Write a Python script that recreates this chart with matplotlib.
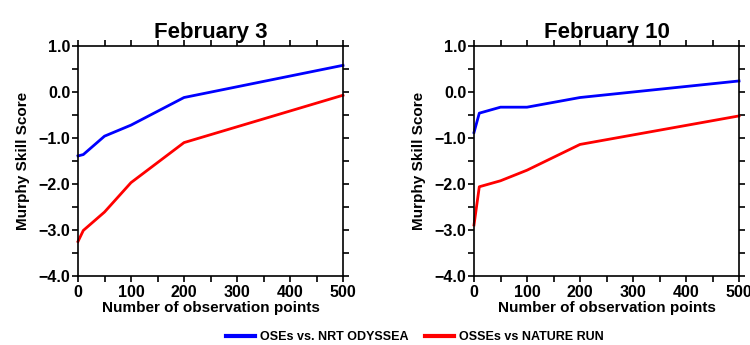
import matplotlib
matplotlib.use("Agg")
import matplotlib.pyplot as plt
from matplotlib.ticker import MultipleLocator, FuncFormatter
from matplotlib.lines import Line2D

plt.rcParams["font.family"] = ["Liberation Sans", "DejaVu Sans"]
plt.rcParams["font.weight"] = "bold"

obs_points = [0, 10, 50, 100, 200, 500]

feb3_ose = [-1.39, -1.36, -0.96, -0.72, -0.12, 0.58]
feb3_osse = [-3.25, -3.01, -2.61, -1.97, -1.10, -0.07]

feb10_ose = [-0.88, -0.46, -0.33, -0.33, -0.12, 0.24]
feb10_osse = [-2.89, -2.06, -1.93, -1.70, -1.14, -0.52]

panels = [
    ("February 3", feb3_ose, feb3_osse),
    ("February 10", feb10_ose, feb10_osse),
]
legend_labels = ["OSEs vs. NRT ODYSSEA", "OSSEs vs NATURE RUN"]
colors = ["#0000ff", "#ff0000"]

W, H = 750, 345
fig = plt.figure(figsize=(7.5, 3.45), dpi=100)

# axes boxes in pixels: left, right, top, bottom
boxes = [(78, 343, 46, 276), (474, 739, 46, 276)]

yfmt = FuncFormatter(lambda v, p: f"{v:.1f}".replace("-", "\u2212"))

for (title, ose, osse), (l, r, t, b) in zip(panels, boxes):
    ax = fig.add_axes([l / W, 1 - b / H, (r - l) / W, (b - t) / H])
    ax.plot(obs_points, ose, color=colors[0], lw=2, clip_on=False)
    ax.plot(obs_points, osse, color=colors[1], lw=2, clip_on=False)
    ax.set_xlim(0, 500)
    ax.set_ylim(-4.0, 1.0)
    ax.xaxis.set_major_locator(MultipleLocator(100))
    ax.xaxis.set_minor_locator(MultipleLocator(50))
    ax.yaxis.set_major_locator(MultipleLocator(1.0))
    ax.yaxis.set_minor_locator(MultipleLocator(0.5))
    ax.yaxis.set_major_formatter(yfmt)
    ax.tick_params(which="both", direction="out", top=True, right=True,
                   length=4.5, width=1.2, labelsize=11.5)
    ax.tick_params(axis="x", pad=2)
    ax.tick_params(axis="y", pad=1)
    for lab in ax.get_xticklabels() + ax.get_yticklabels():
        lab.set_fontweight("bold")
    for s in ax.spines.values():
        s.set_linewidth(1.2)
    ax.set_title(title, fontsize=16, fontweight="bold", pad=6)
    ax.set_xlabel("Number of observation points", fontsize=11,
                  fontweight="bold", labelpad=1)
    ax.set_ylabel("Murphy Skill Score", fontsize=11, fontweight="bold",
                  labelpad=6)

handles = [Line2D([], [], color=c, lw=3) for c in colors]
fig.legend(handles, legend_labels, loc="center", bbox_to_anchor=(0.553, 1 - 337 / H),
           ncol=2, frameon=False, handlelength=2.3, columnspacing=1.3,
           handletextpad=0.4, prop={"size": 9, "weight": "bold"})

fig.savefig("out.png", dpi=100)
